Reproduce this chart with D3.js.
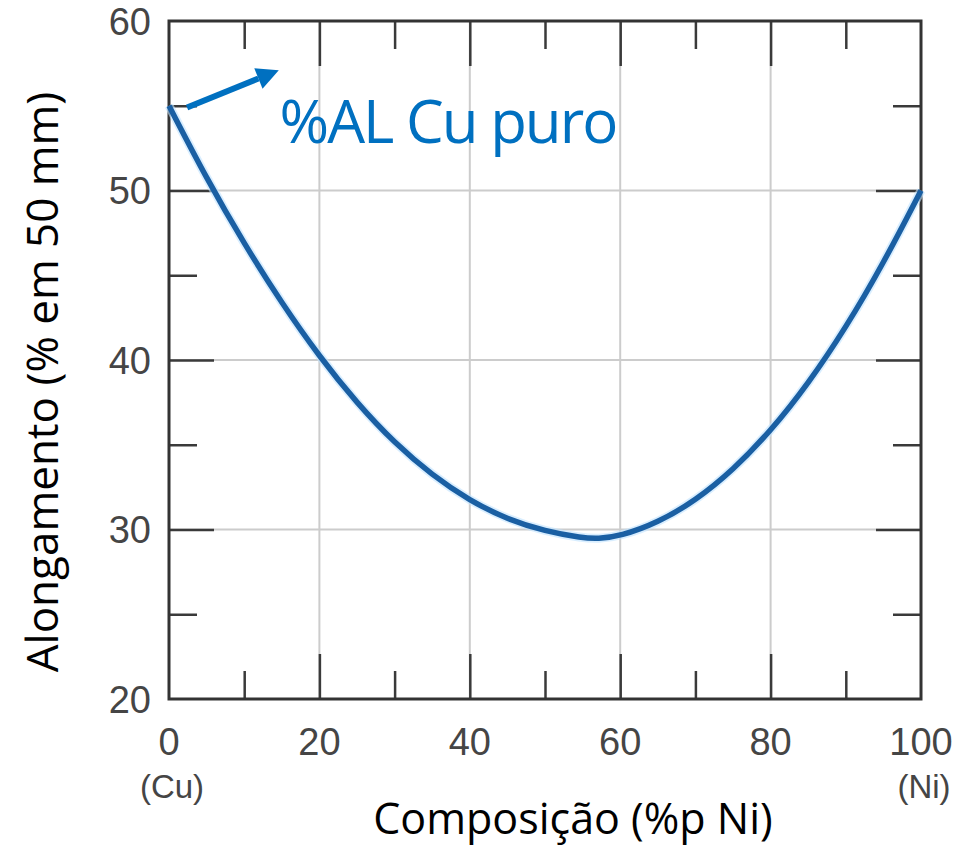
<!DOCTYPE html>
<html>
<head>
<meta charset="utf-8">
<script src="https://cdn.jsdelivr.net/npm/d3@7"></script>
<style>
  body { margin: 0; background: #fff; }
</style>
</head>
<body>
<div id="chart"></div>
<script>
// composition (%p Ni) and elongation (% em 50 mm)
var composicao = [0, 5, 10, 15, 20, 25, 30, 35, 40, 45, 50, 55, 57, 60, 65, 70, 75, 80, 85, 90, 95, 100];
var alongamento = [55, 50.7, 46.85, 43.35, 40.2, 37.45, 35.1, 33.2, 31.7, 30.6, 29.9, 29.5, 29.45, 29.6, 30.4, 31.7, 33.5, 35.8, 38.6, 41.9, 45.7, 50];

var xTicks = [0, 20, 40, 60, 80, 100];
var xMinor = [10, 30, 50, 70, 90];
var yTicks = [20, 30, 40, 50, 60];
var yMinor = [25, 35, 45, 55];
var xEndLabels = [{v: 0, t: "(Cu)"}, {v: 100, t: "(Ni)"}];

var width = 970, height = 847;
var margin = {top: 21, right: 49, bottom: 148, left: 169};

var x = d3.scaleLinear().domain([0, 100]).range([margin.left, width - margin.right]);
var y = d3.scaleLinear().domain([20, 60]).range([height - margin.bottom, margin.top]);

var svg = d3.select("#chart").append("svg")
    .attr("width", width)
    .attr("height", height);

var tickCol = "#3a3a3a", gridCol = "#cccccc", labCol = "#454545";
var majorLen = 45, minorLen = 28;

// grid lines
svg.append("g").selectAll("line").data(xTicks.slice(1, -1)).enter().append("line")
    .attr("x1", function(d) { return x(d); }).attr("x2", function(d) { return x(d); })
    .attr("y1", y(60)).attr("y2", y(20))
    .attr("stroke", gridCol).attr("stroke-width", 2);
svg.append("g").selectAll("line").data(yTicks.slice(1, -1)).enter().append("line")
    .attr("y1", function(d) { return y(d); }).attr("y2", function(d) { return y(d); })
    .attr("x1", x(0)).attr("x2", x(100))
    .attr("stroke", gridCol).attr("stroke-width", 2);

// inward ticks on all four sides, via d3 axes
function tickAxis(axisFn, scale, vals, len, tx) {
  svg.append("g")
    .attr("transform", tx)
    .call(axisFn(scale).tickValues(vals).tickSize(len).tickFormat(""))
    .call(function(g) { g.select(".domain").remove(); })
    .selectAll("line").attr("stroke", tickCol).attr("stroke-width", 2.5);
}
var xIn = xTicks.slice(1, -1), yIn = yTicks.slice(1, -1);
tickAxis(d3.axisTop, x, xIn, majorLen, "translate(0," + y(20) + ")");
tickAxis(d3.axisTop, x, xMinor, minorLen, "translate(0," + y(20) + ")");
tickAxis(d3.axisBottom, x, xIn, majorLen, "translate(0," + y(60) + ")");
tickAxis(d3.axisBottom, x, xMinor, minorLen, "translate(0," + y(60) + ")");
tickAxis(d3.axisRight, y, yIn, majorLen, "translate(" + x(0) + ",0)");
tickAxis(d3.axisRight, y, yMinor, minorLen, "translate(" + x(0) + ",0)");
tickAxis(d3.axisLeft, y, yIn, majorLen, "translate(" + x(100) + ",0)");
tickAxis(d3.axisLeft, y, yMinor, minorLen, "translate(" + x(100) + ",0)");

// frame
svg.append("rect")
    .attr("x", x(0)).attr("y", y(60))
    .attr("width", x(100) - x(0)).attr("height", y(20) - y(60))
    .attr("fill", "none").attr("stroke", "#333").attr("stroke-width", 3);

// tick labels
var fontNum = "'Liberation Sans', Arial, sans-serif";
svg.append("g").selectAll("text").data(yTicks).enter().append("text")
    .attr("x", x(0) - 18).attr("y", function(d) { return y(d); })
    .attr("dy", "0.36em")
    .attr("text-anchor", "end")
    .style("font-family", fontNum).style("font-size", "38px").style("fill", labCol)
    .text(function(d) { return d; });
svg.append("g").selectAll("text").data(xTicks).enter().append("text")
    .attr("x", function(d) { return x(d); }).attr("y", y(20) + 42)
    .attr("dy", "0.36em")
    .attr("text-anchor", "middle")
    .style("font-family", fontNum).style("font-size", "38px").style("fill", labCol)
    .text(function(d) { return d; });
svg.append("g").selectAll("text").data(xEndLabels).enter().append("text")
    .attr("x", function(d) { return x(d.v) + 3; }).attr("y", y(20) + 87)
    .attr("dy", "0.36em")
    .attr("text-anchor", "middle")
    .style("font-family", fontNum).style("font-size", "33px").style("fill", labCol)
    .text(function(d) { return d.t; });

// axis titles
var fontTitle = "'Open Sans', sans-serif";
svg.append("text")
    .attr("x", (x(0) + x(100)) / 2 + 28).attr("y", 834)
    .attr("text-anchor", "middle")
    .style("font-family", fontTitle).style("font-size", "43px").style("fill", "#000")
    .text("Composição (%p Ni)");
svg.append("text")
    .attr("transform", "translate(58," + 382 + ") rotate(-90)")
    .attr("text-anchor", "middle")
    .style("font-family", fontTitle).style("font-size", "44px").style("fill", "#000")
    .text("Alongamento (% em 50 mm)");

// curve
var pts = composicao.map(function(c, i) { return [c, alongamento[i]]; });
var line = d3.line()
    .x(function(d) { return x(d[0]); })
    .y(function(d) { return y(d[1]); })
    .curve(d3.curveBasis);
svg.append("path").datum(pts)
    .attr("d", line)
    .attr("fill", "none").attr("stroke", "#bfe3ff").attr("stroke-width", 9).attr("opacity", 0.6);
svg.append("path").datum(pts)
    .attr("d", line)
    .attr("fill", "none").attr("stroke", "#1a5fa3").attr("stroke-width", 5.5);

// annotation arrow + label
var blue = "#0070c0";
var a0 = [x(2.4), y(54.9)], a1 = [x(14.6), y(57.1)];
var ang = Math.atan2(a1[1] - a0[1], a1[0] - a0[0]);
var headL = 22, headW = 11;
var base = [a1[0] - headL * Math.cos(ang), a1[1] - headL * Math.sin(ang)];
svg.append("line")
    .attr("x1", a0[0]).attr("y1", a0[1]).attr("x2", base[0]).attr("y2", base[1])
    .attr("stroke", blue).attr("stroke-width", 6);
svg.append("path")
    .attr("d", "M" + a1[0] + "," + a1[1] +
      "L" + (base[0] + headW * Math.sin(ang)) + "," + (base[1] - headW * Math.cos(ang)) +
      "L" + (base[0] - headW * Math.sin(ang)) + "," + (base[1] + headW * Math.cos(ang)) + "Z")
    .attr("fill", blue);
svg.append("text")
    .attr("x", x(14.7)).attr("y", y(52.8))
    .style("font-family", fontTitle).style("font-size", "60px").style("fill", blue)
    .style("letter-spacing", "-2px")
    .text("%AL Cu puro");
</script>
</body>
</html>
